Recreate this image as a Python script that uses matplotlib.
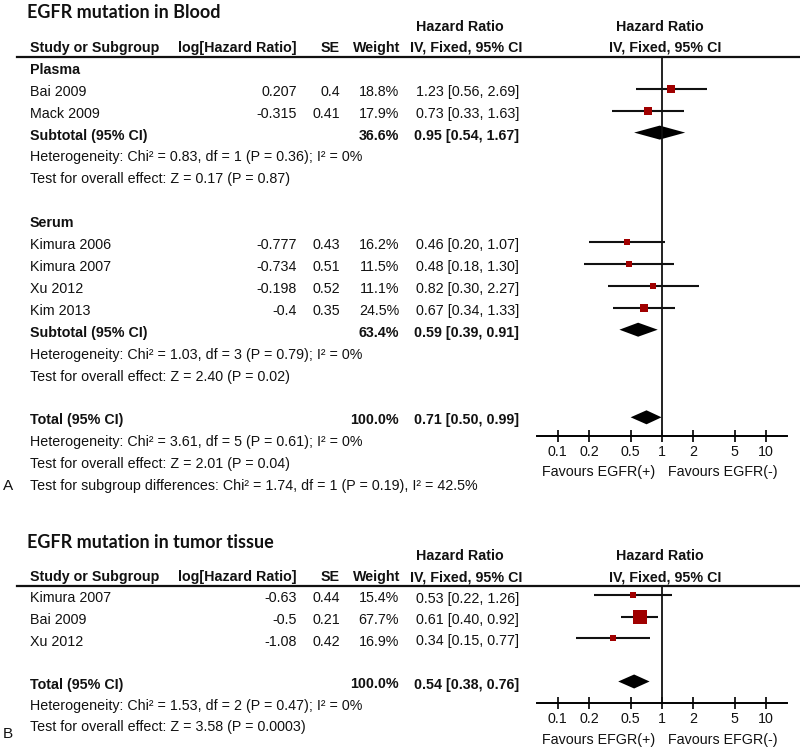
import matplotlib
matplotlib.use('Agg')
import matplotlib.pyplot as plt

plt.rcParams['font.family'] = ['Liberation Sans', 'DejaVu Sans']

# Панель A: кровь
plasma_names = ['Bai 2009', 'Mack 2009']
plasma_loghr = [0.207, -0.315]
plasma_se = [0.4, 0.41]
plasma_weight = [18.8, 17.9]
plasma_hr = [1.23, 0.73]
plasma_lo = [0.56, 0.33]
plasma_hi = [2.69, 1.63]

serum_names = ['Kimura 2006', 'Kimura 2007', 'Xu 2012', 'Kim 2013']
serum_loghr = [-0.777, -0.734, -0.198, -0.4]
serum_se = [0.43, 0.51, 0.52, 0.35]
serum_weight = [16.2, 11.5, 11.1, 24.5]
serum_hr = [0.46, 0.48, 0.82, 0.67]
serum_lo = [0.20, 0.18, 0.30, 0.34]
serum_hi = [1.07, 1.30, 2.27, 1.33]

# итоги: вес, HR, нижняя, верхняя граница
plasma_sub = [36.6, 0.95, 0.54, 1.67]
serum_sub = [63.4, 0.59, 0.39, 0.91]
blood_total = [100.0, 0.71, 0.50, 0.99]

plasma_het = 'Heterogeneity: Chi² = 0.83, df = 1 (P = 0.36); I² = 0%'
plasma_test = 'Test for overall effect: Z = 0.17 (P = 0.87)'
serum_het = 'Heterogeneity: Chi² = 1.03, df = 3 (P = 0.79); I² = 0%'
serum_test = 'Test for overall effect: Z = 2.40 (P = 0.02)'
blood_het = 'Heterogeneity: Chi² = 3.61, df = 5 (P = 0.61); I² = 0%'
blood_test = 'Test for overall effect: Z = 2.01 (P = 0.04)'
blood_diff = 'Test for subgroup differences: Chi² = 1.74, df = 1 (P = 0.19), I² = 42.5%'

# Панель B: ткань опухоли
tissue_names = ['Kimura 2007', 'Bai 2009', 'Xu 2012']
tissue_loghr = [-0.63, -0.5, -1.08]
tissue_se = [0.44, 0.21, 0.42]
tissue_weight = [15.4, 67.7, 16.9]
tissue_hr = [0.53, 0.61, 0.34]
tissue_lo = [0.22, 0.40, 0.15]
tissue_hi = [1.26, 0.92, 0.77]
tissue_total = [100.0, 0.54, 0.38, 0.76]
tissue_het = 'Heterogeneity: Chi² = 1.53, df = 2 (P = 0.47); I² = 0%'
tissue_test = 'Test for overall effect: Z = 3.58 (P = 0.0003)'

ticks = [0.1, 0.2, 0.5, 1, 2, 5, 10]
tick_labels = ['0.1', '0.2', '0.5', '1', '2', '5', '10']

RED = '#a00000'
INK = '#111111'
FS = 10.3

fig = plt.figure(figsize=(8, 7.51), dpi=100)
bg = fig.add_axes([0, 0, 1, 1])
bg.set_xlim(0, 800)
bg.set_ylim(751, 0)
bg.axis('off')


def txt(x, y, s, ha='left', bold=False, size=FS, **kw):
    bg.text(x, y, s, ha=ha, va='center', fontsize=size, color=INK,
            fontweight='bold' if bold else 'normal', **kw)


def fmt_ci(hr, lo, hi):
    return f'{hr:.2f} [{lo:.2f}, {hi:.2f}]'


def make_forest(top, bottom):
    # оси лесного графика в пиксельных координатах по y
    ax = fig.add_axes([537 / 800, 1 - bottom / 751, 250 / 800, (bottom - top) / 751])
    ax.set_xscale('log')
    ax.set_xlim(10 ** -1.2, 10 ** 1.2)
    ax.set_ylim(bottom, top)
    ax.patch.set_alpha(0)
    for s in ['top', 'left', 'right']:
        ax.spines[s].set_visible(False)
    ax.spines['bottom'].set_linewidth(1.4)
    ax.set_yticks([])
    ax.set_xticks(ticks)
    ax.set_xticklabels(tick_labels)
    ax.minorticks_off()
    ax.tick_params(axis='x', direction='inout', length=9, width=1.3, pad=2,
                   labelsize=FS, colors=INK)
    ax.axvline(1, color=INK, lw=1.3)
    return ax


def study_row(ax, y, name, lg, se, w, hr, lo, hi):
    txt(30, y, name)
    txt(297, y, str(lg), ha='right')
    txt(340, y, str(se), ha='right')
    txt(399, y, f'{w:.1f}%', ha='right')
    txt(519, y, fmt_ci(hr, lo, hi), ha='right')
    yf = y - 3
    ax.plot([lo, hi], [yf, yf], color=INK, lw=1.5, solid_capstyle='butt')
    ax.plot([hr], [yf], marker='s', color=RED, ms=1.7 * w ** 0.5 * 0.72, mew=0)


def summary_row(ax, y, label, vals):
    w, hr, lo, hi = vals
    txt(30, y, label, bold=True)
    txt(399, y, f'{w:.1f}%', ha='right', bold=True)
    txt(519, y, fmt_ci(hr, lo, hi), ha='right', bold=True)
    yf = y - 3
    ax.fill([lo, hr, hi, hr], [yf, yf - 7, yf, yf + 7], color='black', lw=0)


def headers(y_head, y_line, title):
    txt(27, y_head - 35, title, bold=True, size=13, family=['Lato', 'DejaVu Sans'])
    txt(460, y_head - 21, 'Hazard Ratio', ha='center', bold=True)
    txt(660, y_head - 21, 'Hazard Ratio', ha='center', bold=True)
    txt(30, y_head, 'Study or Subgroup', bold=True)
    txt(297, y_head, 'log[Hazard Ratio]', ha='right', bold=True)
    txt(340, y_head, 'SE', ha='right', bold=True)
    txt(400, y_head, 'Weight', ha='right', bold=True)
    txt(466, y_head, 'IV, Fixed, 95% CI', ha='center', bold=True)
    txt(665, y_head, 'IV, Fixed, 95% CI', ha='center', bold=True)
    bg.plot([17, 800], [y_line, y_line], color=INK, lw=1.6)


# ---------- Панель A ----------
y0, step = 48, 21.9
row = lambda i: y0 + step * i
headers(y0, 57, 'EGFR mutation in Blood')
axA = make_forest(57, 436)

txt(30, row(1), 'Plasma', bold=True)
for i in range(len(plasma_names)):
    study_row(axA, row(2 + i), plasma_names[i], plasma_loghr[i], plasma_se[i],
              plasma_weight[i], plasma_hr[i], plasma_lo[i], plasma_hi[i])
summary_row(axA, row(4), 'Subtotal (95% CI)', plasma_sub)
txt(30, row(5), plasma_het)
txt(30, row(6), plasma_test)

txt(30, row(8), 'Serum', bold=True)
for i in range(len(serum_names)):
    study_row(axA, row(9 + i), serum_names[i], serum_loghr[i], serum_se[i],
              serum_weight[i], serum_hr[i], serum_lo[i], serum_hi[i])
summary_row(axA, row(13), 'Subtotal (95% CI)', serum_sub)
txt(30, row(14), serum_het)
txt(30, row(15), serum_test)

summary_row(axA, row(17), 'Total (95% CI)', blood_total)
txt(30, row(18), blood_het)
txt(30, row(19), blood_test)
txt(30, row(20), blood_diff)
txt(3, row(20), 'A', size=11)
txt(655, 472, 'Favours EGFR(+)', ha='right')
txt(668, 472, 'Favours EGFR(-)')

# ---------- Панель B ----------
y0, step = 577, 21.5
row = lambda i: y0 + step * i
headers(y0, 586, 'EGFR mutation in tumor tissue')
axB = make_forest(586, 703)

for i in range(len(tissue_names)):
    study_row(axB, row(1 + i), tissue_names[i], tissue_loghr[i], tissue_se[i],
              tissue_weight[i], tissue_hr[i], tissue_lo[i], tissue_hi[i])
summary_row(axB, row(5), 'Total (95% CI)', tissue_total)
txt(30, row(6), tissue_het)
txt(30, row(7), tissue_test)
txt(3, 734, 'B', size=11)
txt(655, 740, 'Favours EFGR(+)', ha='right')
txt(668, 740, 'Favours EFGR(-)')

fig.savefig('out.png', dpi=100)
